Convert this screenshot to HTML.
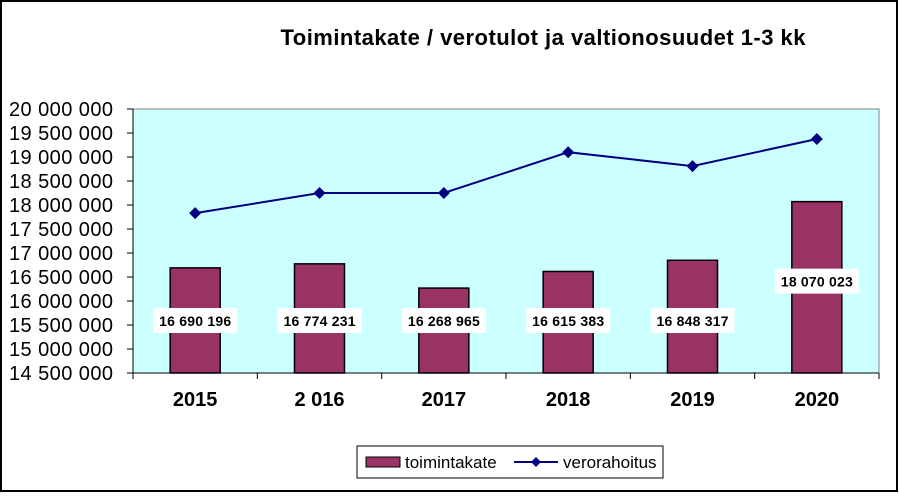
<!DOCTYPE html>
<html><head><meta charset="utf-8"><style>
body{margin:0;background:#fff;}
svg text{font-family:"Liberation Sans",Arial,sans-serif;}
</style></head><body>
<svg width="899" height="493" xmlns="http://www.w3.org/2000/svg">
<rect x="1" y="1" width="896" height="490" fill="#fff" stroke="#000" stroke-width="2"/>
<text x="543" y="45" text-anchor="middle" font-size="22" font-weight="bold" textLength="525">Toimintakate / verotulot ja valtionosuudet 1-3 kk</text>
<rect x="133" y="109" width="746" height="264" fill="#ccffff" stroke="#808080" stroke-width="1"/>
<g id="axes"></g>
<g id="bars"></g>
<g id="line"></g>
<g id="labels"></g>
<g>
<rect x="357" y="446" width="306" height="32" fill="#fff" stroke="#000"/>
<rect x="366" y="457" width="34" height="10" fill="#993366" stroke="#000"/>
<text x="405" y="468" font-size="17">toimintakate</text>
<line x1="514" y1="462" x2="558" y2="462" stroke="#000080" stroke-width="2"/>
<path d="M536 457 L541 462 L536 467 L531 462 Z" fill="#000080"/>
<text x="563" y="468" font-size="17">verorahoitus</text>
</g>
</svg>
<script>
const categories=["2015","2 016","2017","2018","2019","2020"];
const toimintakate=[16690196,16774231,16268965,16615383,16848317,18070023];
const verorahoitus=[17830000,18250000,18250000,19100000,18810000,19375000];
const barLabels=["16 690 196","16 774 231","16 268 965","16 615 383","16 848 317","18 070 023"];
const yTicks=[14500000,15000000,15500000,16000000,16500000,17000000,17500000,18000000,18500000,19000000,19500000,20000000];
const NS="http://www.w3.org/2000/svg";
const L=133,R=879,T=109,B=373,YMIN=14500000,YMAX=20000000;
const bw=(R-L)/categories.length;
const y=v=>B-(v-YMIN)/(YMAX-YMIN)*(B-T);
const xc=i=>L+bw*(i+0.5);
function mk(tag,attrs,parent,txt){const e=document.createElementNS(NS,tag);for(const k in attrs)e.setAttribute(k,attrs[k]);if(txt!==undefined)e.textContent=txt;document.getElementById(parent).appendChild(e);return e;}
const fmt=v=>String(v).replace(/\B(?=(\d{3})+(?!\d))/g," ");
mk("line",{x1:L,y1:T,x2:L,y2:B,stroke:"#000"},"axes");
mk("line",{x1:L,y1:B,x2:R,y2:B,stroke:"#000"},"axes");
yTicks.forEach(v=>{
 const t=mk("line",{x1:L-6,y1:y(v),x2:L,y2:y(v),stroke:"#000"},"axes");
 
 
 const tx=mk("text",{x:L-20,y:y(v)+7,"text-anchor":"end","font-size":"20",textLength:"104"},"axes",fmt(v));
 
 
});
for(let i=0;i<=categories.length;i++){mk("line",{x1:L+bw*i,y1:B,x2:L+bw*i,y2:B+6,stroke:"#000"},"axes");}
categories.forEach((c,i)=>{
 const tx=mk("text",{x:xc(i),y:B+33,"text-anchor":"middle","font-size":"20","font-weight":"bold"},"axes",c);
 
 
 const b=mk("rect",{x:xc(i)-25,y:y(toimintakate[i]),width:50,height:B-y(toimintakate[i]),fill:"#993366",stroke:"#000","stroke-width":"1.5"},"bars");
 
 
});
let pts=verorahoitus.map((v,i)=>xc(i)+","+y(v)).join(" ");
const pl=mk("polyline",{points:pts,fill:"none",stroke:"#000080","stroke-width":"2"},"line");


verorahoitus.forEach((v,i)=>{
 const cx=xc(i),cy=y(v);
 const m=mk("path",{d:`M${cx} ${cy-6} L${cx+6} ${cy} L${cx} ${cy+6} L${cx-6} ${cy} Z`,fill:"#000080"},"line");
 
 
});
barLabels.forEach((s,i)=>{
 const cy=i===5?y(toimintakate[i])+80:321;
 const r=mk("rect",{x:xc(i)-42,y:cy-13,width:84,height:25,fill:"#fff"},"labels");
 
 
 const t=mk("text",{x:xc(i),y:cy+5,"text-anchor":"middle","font-size":"14","font-weight":"bold",textLength:"72"},"labels",s);
 
 
});
</script>
</body></html>
